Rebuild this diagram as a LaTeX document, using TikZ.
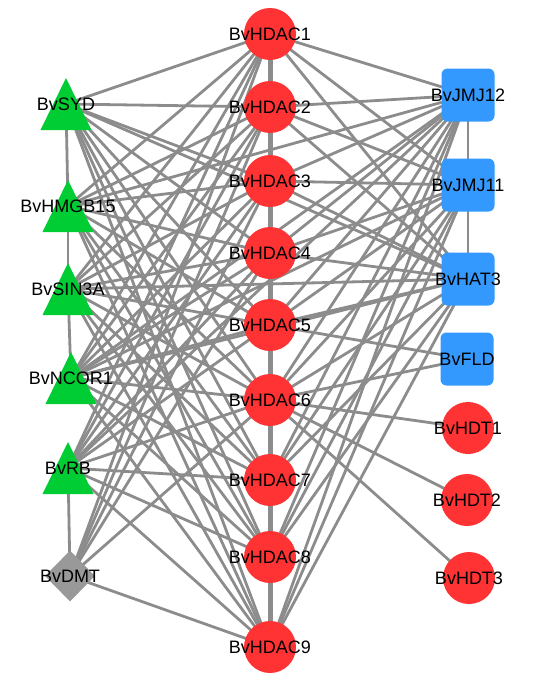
\documentclass[tikz,border=0pt]{standalone}
\usepackage{fontspec}
\setmainfont{Liberation Sans}
\usetikzlibrary{shapes.geometric,backgrounds}
\definecolor{hdacred}{HTML}{FF3333}
\definecolor{tfgreen}{HTML}{00CC33}
\definecolor{jmjblue}{HTML}{3399FF}
\definecolor{dmtgray}{HTML}{999999}
\definecolor{edgegray}{HTML}{8C8C8C}

\begin{document}
\begin{tikzpicture}[
  x=1pt,y=-1pt,
  font=\fontsize{18}{20}\selectfont,
  hdac/.style={circle,fill=hdacred,minimum size=52pt,inner sep=0pt},
  tri/.style={rectangle,minimum width=51pt,minimum height=52pt,inner sep=0pt,
    path picture={\fill[tfgreen] (path picture bounding box.south west) -- (path picture bounding box.south east) -- (path picture bounding box.north) -- cycle;}},
  box/.style={rectangle,rounded corners=6pt,fill=jmjblue,minimum size=53pt,inner sep=0pt},
  dmt/.style={diamond,fill=dmtgray,minimum width=50pt,minimum height=51pt,inner sep=0pt},
  link/.style={draw=edgegray,line width=2.8pt},
  spine/.style={draw=edgegray,line width=5pt}
]
  \useasboundingbox (0,0) rectangle (538,686);

  % centre column
  \node[hdac,label={center:BvHDAC1}] (hdac1) at (270,34) {};
  \node[hdac,label={center:BvHDAC2}] (hdac2) at (270,107) {};
  \node[hdac,label={center:BvHDAC3}] (hdac3) at (270,181) {};
  \node[hdac,label={center:BvHDAC4}] (hdac4) at (270,253) {};
  \node[hdac,label={center:BvHDAC5}] (hdac5) at (270,325) {};
  \node[hdac,label={center:BvHDAC6}] (hdac6) at (270,400) {};
  \node[hdac,label={center:BvHDAC7}] (hdac7) at (270,480) {};
  \node[hdac,label={center:BvHDAC8}] (hdac8) at (270,557) {};
  \node[hdac,label={center:BvHDAC9}] (hdac9) at (270,647) {};

  % left column
  \node[tri,label={center:BvSYD}] (syd) at (66,104) {};
  \node[tri,label={center:BvHMGB15}] (hmgb) at (68,206) {};
  \node[tri,label={center:BvSIN3A}] (sin) at (68,289) {};
  \node[tri,label={center:BvNCOR1}] (ncor) at (71,378) {};
  \node[tri,label={center:BvRB}] (rb) at (68,468) {};
  \node[dmt,label={center:BvDMT}] (dmt) at (70,576) {};

  % right column
  \node[box,label={center:BvJMJ12}] (jmj12) at (468,95) {};
  \node[box,label={center:BvJMJ11}] (jmj11) at (468,185) {};
  \node[box,label={center:BvHAT3}] (hat3) at (468,279) {};
  \node[box,label={center:BvFLD}] (fld) at (467,359) {};
  \node[hdac,label={center:BvHDT1}] (hdt1) at (468,428) {};
  \node[hdac,label={center:BvHDT2}] (hdt2) at (467,500) {};
  \node[hdac,label={center:BvHDT3}] (hdt3) at (469,578) {};

  \begin{scope}[on background layer]
    \draw[spine] (hdac1.center) -- (hdac9.center);
    \foreach \t in {syd,hmgb,sin,ncor,rb,jmj12,jmj11,hat3}
      \foreach \h in {1,...,9}
        \draw[link] (\t.center) -- (hdac\h.center);
    \foreach \h in {1,2,3,4,6,9}
      \draw[link] (dmt.center) -- (hdac\h.center);
    \foreach \a/\b in {syd/hmgb,hmgb/sin,sin/ncor,rb/dmt,jmj12/jmj11,jmj11/hat3,
        sin/hat3,ncor/jmj12,ncor/jmj11,ncor/hat3,hmgb/jmj12,rb/jmj12,syd/hat3,
        fld/hdac5,fld/hdac6,hdt1/hdac6,hdt2/hdac6,hdt3/hdac6}
      \draw[link] (\a.center) -- (\b.center);
  \end{scope}
\end{tikzpicture}
\end{document}
